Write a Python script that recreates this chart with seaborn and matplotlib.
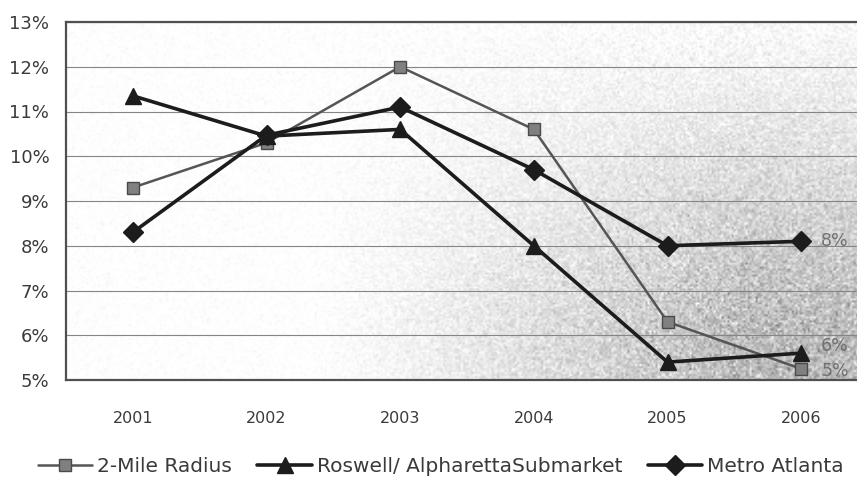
import numpy as np
import pandas as pd
import matplotlib
matplotlib.use("Agg")
import matplotlib.pyplot as plt
import seaborn as sns

# Vacancy-rate series by year
years = ["2001", "2002", "2003", "2004", "2005", "2006"]
two_mile = [9.3, 10.3, 12.0, 10.6, 6.3, 5.25]
roswell = [11.35, 10.45, 10.6, 8.0, 5.4, 5.6]
metro = [8.3, 10.47, 11.1, 9.7, 8.0, 8.1]
y_ticks = [5, 6, 7, 8, 9, 10, 11, 12, 13]

series_names = ["2-Mile Radius", "Roswell/ AlpharettaSubmarket", "Metro Atlanta"]

df = pd.DataFrame({
    "pos": list(range(len(years))) * 3,
    "rate": two_mile + roswell + metro,
    "series": [series_names[0]] * 6 + [series_names[1]] * 6 + [series_names[2]] * 6,
})

sns.set_theme(style="white")
plt.rcParams["font.family"] = ["DejaVu Sans"]

fig = plt.figure(figsize=(8.57, 4.97), dpi=100)
ax = fig.add_axes([66 / 857, 1 - 380 / 497, (868 - 66) / 857, (380 - 22) / 497])

ax.set_xlim(-0.5, 5.5)
ax.set_ylim(5, 13)

# Shaded, speckled backdrop that darkens toward the lower right
nx, ny = 400, 180
gx = np.linspace(0, 1, nx)[None, :]
gy = np.linspace(0, 1, ny)[:, None]
ramp = np.clip((gx - 0.3) / 0.55, 0, 1) ** 1.2
shade = ramp * np.clip(1.15 - 1.1 * gy, 0.08, 1)
rng = np.random.default_rng(7)
grain = rng.normal(0, 1, (ny, nx)) * (0.015 + 0.08 * np.maximum(shade, 0.3 * ramp))
img = np.clip(1 - 0.27 * shade + grain, 0, 1)
ax.imshow(img, cmap="gray", vmin=0, vmax=1, origin="lower",
          extent=(-0.5, 5.5, 5, 13), aspect="auto", zorder=0,
          interpolation="bilinear")

for yv in y_ticks:
    ax.axhline(yv, color="#858585", lw=0.8, zorder=1)

styles = {
    series_names[0]: dict(color="#555555", lw=1.8, marker="s", ms=9,
                          mfc="#808080", mec="#4a4a4a", mew=1.0),
    series_names[1]: dict(color="#1c1c1c", lw=2.6, marker="^", ms=11,
                          mfc="#1c1c1c", mec="#1c1c1c", mew=1.0),
    series_names[2]: dict(color="#1c1c1c", lw=2.6, marker="D", ms=10,
                          mfc="#1c1c1c", mec="#1c1c1c", mew=1.0),
}
for name in series_names:
    st = styles[name]
    sub = df[df["series"] == name]
    sns.lineplot(data=sub, x="pos", y="rate", ax=ax, label=name,
                 color=st["color"], linewidth=st["lw"], marker=st["marker"],
                 markersize=st["ms"], markerfacecolor=st["mfc"],
                 markeredgecolor=st["mec"], markeredgewidth=st["mew"],
                 zorder=3, legend=False)

# End-of-series value labels
last = len(years) - 1
for vals, dy in [(metro, 0.0), (roswell, 0.15), (two_mile, -0.05)]:
    ax.text(last + 0.15, vals[-1] + dy, f"{round(vals[-1]):.0f}%",
            color="#707070", fontsize=12.5, va="center", ha="left", zorder=4)

ax.set_xticks(range(len(years)))
ax.set_xticklabels(years)
ax.set_yticks(y_ticks)
ax.set_yticklabels([f"{v}%" for v in y_ticks])
ax.set_xlabel("")
ax.set_ylabel("")
ax.tick_params(axis="y", labelsize=13, labelcolor="#3a3a3a", length=4,
               color="#7a7a7a", pad=8)
ax.tick_params(axis="x", labelsize=11.5, labelcolor="#3a3a3a", length=0, pad=22)

for side in ["left", "top", "bottom"]:
    ax.spines[side].set_color("#505050")
    ax.spines[side].set_linewidth(1.6)
    ax.spines[side].set_zorder(2)
ax.spines["right"].set_visible(False)

handles, labels = ax.get_legend_handles_labels()
fig.legend(handles, labels, loc="center left",
           bbox_to_anchor=(38 / 857, 1 - 467 / 497), ncol=3, frameon=False,
           fontsize=14.5, handlelength=2.7, columnspacing=1.25, handletextpad=0.25,
           labelcolor="#3a3a3a", borderaxespad=0, borderpad=0)

fig.savefig("out.png", dpi=100)
